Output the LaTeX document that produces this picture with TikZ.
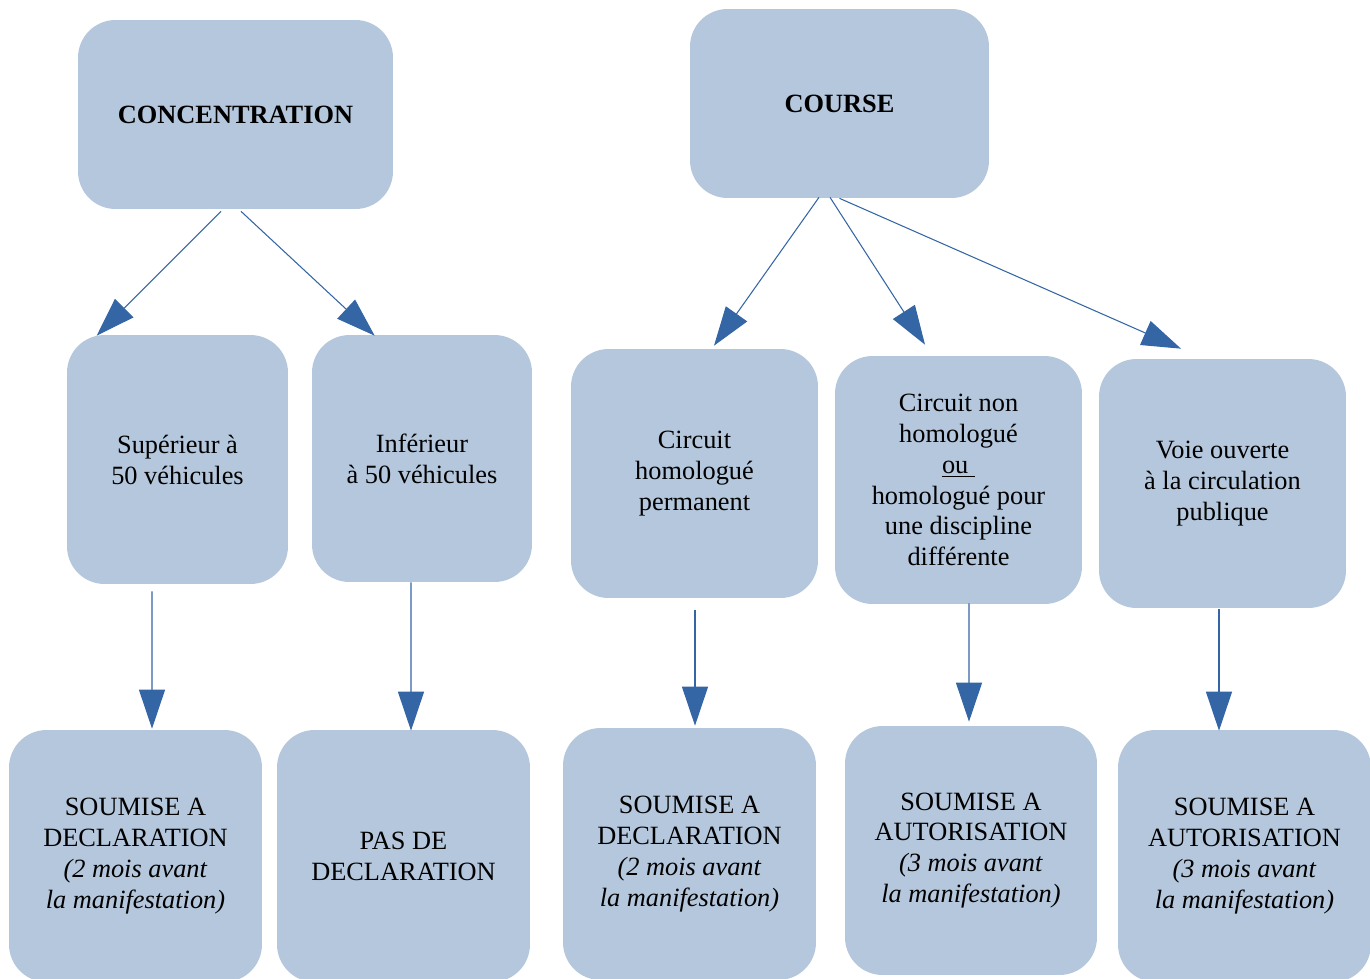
\documentclass[tikz,border=0pt]{standalone}
\usepackage{fontspec}
\setmainfont{Liberation Serif}
\usetikzlibrary{calc,arrows.meta}
\definecolor{boxblue}{HTML}{B4C7DC}
\definecolor{arrowblue}{HTML}{3465A4}

\begin{document}
\begin{tikzpicture}[x=0.02cm, y=-0.02cm, block/.style={rectangle, fill=boxblue, rounded corners=0.75cm, align=center, inner sep=2pt, font=\fontsize{15}{17.6}\selectfont}, link/.style={draw=arrowblue, line width=0.6pt, -{Triangle[length=0.78cm, width=0.52cm, fill=arrowblue]}},]
   \clip (0,0) rectangle (1370,978);
   \node[block, minimum width=6.3cm, minimum height=3.78cm] (conc) at (235.5,114.5) {\textbf{CONCENTRATION}};
   \node[block, minimum width=5.98cm, minimum height=3.78cm] (course) at (839.5,103.5) {\textbf{COURSE}};
   \node[block, minimum width=4.42cm, minimum height=4.98cm] (sup) at (177.5,459.5) {Supérieur à\\50 véhicules};
   \node[block, minimum width=4.4cm, minimum height=4.94cm] (inf) at (422,458.5) {Inférieur\\à 50 véhicules};
   \node[block, minimum width=4.94cm, minimum height=4.98cm] (perm) at (694.5,473.5) {Circuit\\homologué\\permanent};
   \node[block, minimum width=4.94cm, minimum height=4.96cm] (nonhom) at (958.5,480) {Circuit non\\homologué\\\underline{ou\ }\\homologué pour\\une discipline\\différente};
   \node[block, minimum width=4.94cm, minimum height=4.98cm] (voie) at (1222.5,483.5) {Voie ouverte\\à la circulation\\publique};
   \node[block, minimum width=5.06cm, minimum height=5.04cm] (decl1) at (135.5,856) {SOUMISE A\\DECLARATION\\\textit{(2 mois avant}\\\textit{la manifestation)}};
   \node[block, minimum width=5.06cm, minimum height=5.04cm] (pas) at (403.5,856) {PAS DE\\DECLARATION};
   \node[block, minimum width=5.06cm, minimum height=5.04cm] (decl2) at (689.5,854) {SOUMISE A\\DECLARATION\\\textit{(2 mois avant}\\\textit{la manifestation)}};
   \node[block, minimum width=5.04cm, minimum height=4.98cm] (auto1) at (971,850.5) {SOUMISE A\\AUTORISATION\\\textit{(3 mois avant}\\\textit{la manifestation)}};
   \node[block, minimum width=5.06cm, minimum height=5.04cm] (auto2) at (1244.5,856) {SOUMISE A\\AUTORISATION\\\textit{(3 mois avant}\\\textit{la manifestation)}};
   \draw[link] ($(conc.south)+(-14.5,2)$) -- ($(sup.north west)+(30,1)$);
   \draw[link] ($(conc.south)+(5.5,2)$) -- ($(inf.north west)+(63,1)$);
   \draw[link] ($(course.south)+(-20.5,-1)$) -- ($(perm.north)+(19.5,-3)$);
   \draw[link] ($(course.south)+(-9.5,-1)$) -- ($(nonhom.north)+(-33.5,-11)$);
   \draw[link] (course.south) -- ($(voie.north)+(-41.5,-10)$);
   \draw[link] ($(sup.south)+(-25.5,7)$) -- ($(decl1.north)+(16.5,-1)$);
   \draw[link] ($(inf.south)+(-11,0)$) -- ($(pas.north)+(7.5,1)$);
   \draw[link] ($(perm.south)+(0.5,12)$) -- ($(decl2.north)+(5.5,-2)$);
   \draw[link] ($(nonhom.south)+(10.5,-1)$) -- ($(auto1.north)+(-2,-4)$);
   \draw[link] ($(voie.south)+(-3.5,1)$) -- ($(auto2.north)+(-25.5,1)$);
\end{tikzpicture}
\end{document}
